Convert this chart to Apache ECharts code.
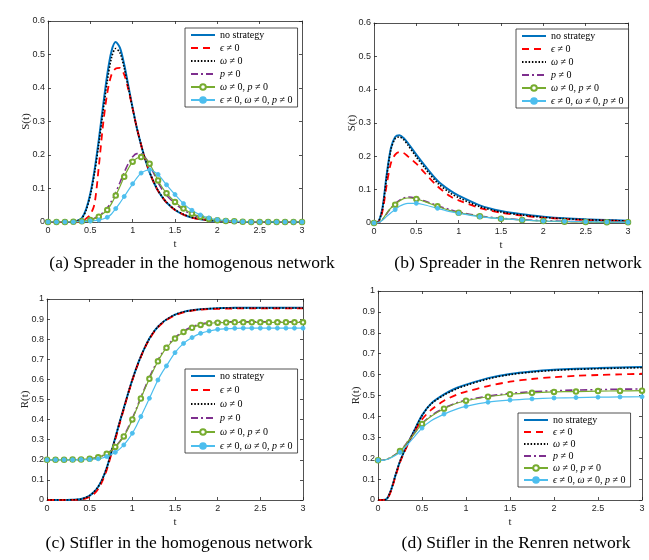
<!DOCTYPE html>
<html>
<head>
<meta charset="utf-8">
<script src="https://cdn.jsdelivr.net/npm/echarts@6.0.0/dist/echarts.min.js"></script>
<style>
html, body { margin: 0; padding: 0; background: #fff; }
#main { width: 649px; height: 560px; }
</style>
</head>
<body>
<div id="main"></div>
<script>
// legend names, same order in every panel
var names = ['no strategy', 'ϵ ≠ 0', 'ω ≠ 0', 'p ≠ 0', 'ω ≠ 0, p ≠ 0', 'ϵ ≠ 0, ω ≠ 0, p ≠ 0'];

var captions = ['(a) Spreader in the homogenous network', '(b) Spreader in the Renren network',
    '(c) Stifler in the homogenous network', '(d) Stifler in the Renren network'];
var yNames = ['S(t)', 'S(t)', 'R(t)', 'R(t)'];
var yMax = [0.6, 0.6, 1, 1];

// sample times (homogenous panels / Renren panels)
var tA = [0, 0.1, 0.2, 0.3, 0.35, 0.4, 0.45, 0.5, 0.55, 0.6, 0.65, 0.7, 0.75, 0.8, 0.85, 0.9, 0.95, 1, 1.05, 1.1,
    1.15, 1.2, 1.25, 1.3, 1.35, 1.4, 1.5, 1.6, 1.7, 1.8, 1.9, 2, 2.1, 2.2, 2.3, 2.4, 2.5, 2.6, 2.7, 2.8, 2.9, 3];
var tB = [0, 0.05, 0.1, 0.15, 0.2, 0.25, 0.3, 0.35, 0.4, 0.5, 0.6, 0.75, 0.9, 1, 1.25, 1.5, 1.75, 2, 2.25, 2.5, 2.75, 3];

// (a) S(t), homogenous network
var aNone = [0, 0, 0, 0.001, 0.004, 0.012, 0.038, 0.085, 0.155, 0.245, 0.345, 0.44, 0.51, 0.537, 0.52, 0.47, 0.405, 0.34, 0.28, 0.23,
    0.185, 0.148, 0.118, 0.093, 0.074, 0.058, 0.036, 0.022, 0.013, 0.008, 0.005, 0.003, 0.002, 0.001, 0, 0, 0, 0, 0, 0, 0, 0];
var aEps = [0, 0, 0, 0, 0.001, 0.003, 0.01, 0.022, 0.055, 0.165, 0.29, 0.385, 0.44, 0.458, 0.46, 0.44, 0.395, 0.338, 0.28, 0.23,
    0.185, 0.148, 0.118, 0.093, 0.074, 0.058, 0.036, 0.022, 0.013, 0.008, 0.005, 0.003, 0.002, 0.001, 0, 0, 0, 0, 0, 0, 0, 0];
var aOmega = [0, 0, 0, 0.001, 0.004, 0.011, 0.035, 0.08, 0.147, 0.233, 0.33, 0.42, 0.49, 0.518, 0.505, 0.46, 0.4, 0.338, 0.28, 0.23,
    0.186, 0.149, 0.119, 0.094, 0.075, 0.059, 0.037, 0.023, 0.014, 0.009, 0.005, 0.003, 0.002, 0.001, 0, 0, 0, 0, 0, 0, 0, 0];
var aP = [0, 0, 0, 0.001, 0.002, 0.003, 0.004, 0.006, 0.011, 0.018, 0.028, 0.042, 0.062, 0.088, 0.118, 0.148, 0.175, 0.195, 0.204, 0.203,
    0.192, 0.172, 0.145, 0.118, 0.096, 0.08, 0.055, 0.036, 0.022, 0.014, 0.008, 0.004, 0.002, 0.001, 0, 0, 0, 0, 0, 0, 0, 0];
var aWP = [0, 0, 0, 0.001, 0.001, 0.002, 0.004, 0.006, 0.01, 0.016, 0.025, 0.036, 0.055, 0.079, 0.106, 0.135, 0.16, 0.18, 0.19, 0.194,
    0.19, 0.174, 0.15, 0.124, 0.103, 0.086, 0.06, 0.04, 0.025, 0.016, 0.009, 0.005, 0.003, 0.002, 0.001, 0, 0, 0, 0, 0, 0, 0];
var aAll = [0, 0, 0, 0, 0.001, 0.001, 0.002, 0.003, 0.004, 0.006, 0.009, 0.014, 0.024, 0.04, 0.057, 0.076, 0.095, 0.114, 0.132, 0.146,
    0.153, 0.156, 0.151, 0.142, 0.127, 0.111, 0.082, 0.055, 0.035, 0.021, 0.012, 0.007, 0.004, 0.002, 0.001, 0, 0, 0, 0, 0, 0, 0];

// (b) S(t), Renren network
var bNone = [0, 0.003, 0.045, 0.145, 0.225, 0.258, 0.263, 0.255, 0.24, 0.205, 0.172, 0.127, 0.097, 0.082, 0.053, 0.036, 0.026, 0.019, 0.014, 0.011, 0.009, 0.007];
var bEps = [0, 0.002, 0.035, 0.115, 0.18, 0.205, 0.213, 0.21, 0.2, 0.178, 0.15, 0.11, 0.08, 0.068, 0.045, 0.031, 0.022, 0.016, 0.012, 0.009, 0.007, 0.006];
var bOmega = [0, 0.003, 0.043, 0.14, 0.22, 0.253, 0.258, 0.25, 0.234, 0.198, 0.165, 0.12, 0.09, 0.076, 0.049, 0.033, 0.024, 0.017, 0.013, 0.01, 0.008, 0.006];
var bP = [0, 0.001, 0.01, 0.028, 0.045, 0.058, 0.068, 0.075, 0.078, 0.074, 0.066, 0.052, 0.04, 0.033, 0.021, 0.014, 0.01, 0.007, 0.005, 0.004, 0.003, 0.003];
var bWP = [0, 0.001, 0.01, 0.03, 0.045, 0.055, 0.066, 0.073, 0.075, 0.072, 0.064, 0.05, 0.037, 0.031, 0.02, 0.013, 0.009, 0.006, 0.004, 0.003, 0.002, 0.002];
var bAll = [0, 0.001, 0.008, 0.02, 0.031, 0.04, 0.05, 0.056, 0.059, 0.059, 0.054, 0.044, 0.034, 0.029, 0.019, 0.013, 0.009, 0.006, 0.005, 0.004, 0.003, 0.002];

// (c) R(t), homogenous network
var cNone = [0, 0, 0, 0.001, 0.002, 0.005, 0.011, 0.022, 0.04, 0.066, 0.105, 0.16, 0.232, 0.31, 0.385, 0.457, 0.53, 0.598, 0.66, 0.714,
    0.762, 0.803, 0.836, 0.862, 0.882, 0.898, 0.922, 0.936, 0.944, 0.949, 0.952, 0.954, 0.955, 0.956, 0.956, 0.956, 0.956, 0.956, 0.956, 0.956, 0.956, 0.956];
var cEps = [0, 0, 0, 0.001, 0.001, 0.003, 0.007, 0.015, 0.03, 0.055, 0.095, 0.15, 0.222, 0.3, 0.378, 0.452, 0.527, 0.596, 0.658, 0.712,
    0.76, 0.8, 0.833, 0.859, 0.879, 0.895, 0.919, 0.933, 0.942, 0.947, 0.95, 0.951, 0.952, 0.953, 0.953, 0.953, 0.953, 0.953, 0.953, 0.953, 0.953, 0.953];
var cOmega = [0, 0, 0, 0.001, 0.002, 0.005, 0.011, 0.022, 0.04, 0.066, 0.105, 0.16, 0.232, 0.31, 0.385, 0.457, 0.53, 0.598, 0.66, 0.714,
    0.762, 0.803, 0.836, 0.862, 0.882, 0.898, 0.922, 0.936, 0.944, 0.949, 0.952, 0.954, 0.955, 0.955, 0.955, 0.955, 0.955, 0.955, 0.955, 0.955, 0.955, 0.955];
var cP = [0.2, 0.2, 0.2, 0.201, 0.201, 0.202, 0.203, 0.205, 0.208, 0.213, 0.22, 0.231, 0.246, 0.266, 0.29, 0.32, 0.359, 0.405, 0.457, 0.51,
    0.561, 0.61, 0.655, 0.696, 0.732, 0.762, 0.808, 0.84, 0.862, 0.875, 0.882, 0.885, 0.886, 0.887, 0.887, 0.887, 0.887, 0.887, 0.887, 0.887, 0.887, 0.887];
var cWP = [0.2, 0.2, 0.2, 0.201, 0.201, 0.202, 0.203, 0.205, 0.208, 0.213, 0.22, 0.23, 0.244, 0.264, 0.287, 0.316, 0.355, 0.401, 0.452, 0.505,
    0.556, 0.603, 0.648, 0.69, 0.727, 0.757, 0.803, 0.836, 0.857, 0.871, 0.879, 0.882, 0.883, 0.884, 0.884, 0.884, 0.884, 0.884, 0.884, 0.884, 0.884, 0.884];
var cAll = [0.2, 0.2, 0.2, 0.2, 0.2, 0.201, 0.201, 0.202, 0.203, 0.205, 0.209, 0.216, 0.225, 0.237, 0.253, 0.274, 0.3, 0.332, 0.371, 0.415,
    0.46, 0.506, 0.552, 0.597, 0.635, 0.667, 0.733, 0.779, 0.808, 0.829, 0.841, 0.849, 0.852, 0.854, 0.855, 0.855, 0.855, 0.855, 0.855, 0.855, 0.855, 0.855];

// (d) R(t), Renren network
var dNone = [0, 0, 0.005, 0.05, 0.12, 0.185, 0.235, 0.28, 0.322, 0.405, 0.46, 0.505, 0.537, 0.552, 0.583, 0.603, 0.615, 0.623, 0.628, 0.631, 0.634, 0.636];
var dEps = [0, 0, 0.004, 0.045, 0.115, 0.18, 0.23, 0.275, 0.315, 0.385, 0.43, 0.475, 0.505, 0.518, 0.545, 0.566, 0.579, 0.588, 0.594, 0.598, 0.601, 0.604];
var dOmega = [0, 0, 0.005, 0.05, 0.12, 0.185, 0.235, 0.28, 0.322, 0.403, 0.458, 0.502, 0.533, 0.548, 0.579, 0.6, 0.612, 0.62, 0.625, 0.628, 0.631, 0.633];
var dP = [0.19, 0.19, 0.195, 0.205, 0.218, 0.236, 0.258, 0.287, 0.313, 0.366, 0.402, 0.44, 0.466, 0.477, 0.497, 0.51, 0.518, 0.523, 0.526, 0.528, 0.53, 0.531];
var dWP = [0.19, 0.19, 0.195, 0.205, 0.218, 0.235, 0.257, 0.285, 0.31, 0.364, 0.4, 0.437, 0.464, 0.475, 0.494, 0.506, 0.513, 0.517, 0.519, 0.521, 0.522, 0.523];
var dAll = [0.19, 0.19, 0.194, 0.202, 0.214, 0.228, 0.248, 0.272, 0.296, 0.344, 0.378, 0.411, 0.436, 0.448, 0.468, 0.478, 0.484, 0.488, 0.49, 0.492, 0.493, 0.494];

var panels = [
    {t: tA, step: 0.1, ys: [aNone, aEps, aOmega, aP, aWP, aAll]},
    {t: tB, step: 0.25, ys: [bNone, bEps, bOmega, bP, bWP, bAll]},
    {t: tA, step: 0.1, ys: [cNone, cEps, cOmega, cP, cWP, cAll]},
    {t: tB, step: 0.25, ys: [dNone, dEps, dOmega, dP, dWP, dAll]}
];

// MATLAB-ish line styles
var styles = [
    {color: '#0072BD', width: 2, type: 'solid', symbol: 'none'},
    {color: '#FF0000', width: 1.8, type: [7, 5], symbol: 'none'},
    {color: '#000000', width: 1.6, type: [1.5, 1.8], symbol: 'none'},
    {color: '#7E2F8E', width: 1.6, type: [7, 3, 2, 3], symbol: 'none'},
    {color: '#77AC30', width: 1.2, type: 'solid', symbol: 'emptyCircle', size: 4.5},
    {color: '#4DBEEE', width: 1.2, type: 'solid', symbol: 'circle', size: 4}
];

var grids = [
    {left: 48, top: 21, width: 254, height: 201},
    {left: 374, top: 23, width: 254, height: 200},
    {left: 47, top: 299, width: 256, height: 201},
    {left: 378, top: 291, width: 264, height: 209}
];
var legendPos = [[185, 28, 3], [516, 29, 3], [185, 369, 4], [518, 413, 2]];
var captionPos = [[192, 263], [518, 263], [179, 543], [516, 543]];

var axisColor = '#262626';

function isMark(x, step) {
    var k = x / step;
    return Math.abs(k - Math.round(k)) < 1e-6;
}

function legendText(name) {
    if (name == 'no strategy') return name;
    return name.replace(/([ϵωp])/g, '{i|$1}');
}

// line-only entries get an invisible legend symbol
var legendData = names.map(function(n, k) {
    if (styles[k].symbol != 'none') return n;
    return {name: n, itemStyle: {color: 'rgba(0,0,0,0)', borderColor: 'rgba(0,0,0,0)', borderWidth: 0}};
});

var xAxes = [], yAxes = [], series = [], legends = [], graphics = [];

grids.forEach(function(g, i) {
    var tick = {inside: true, length: 3, lineStyle: {color: axisColor, width: 0.8}};
    var line = {onZero: false, lineStyle: {color: axisColor, width: 0.8}};
    xAxes.push({
        gridIndex: i, type: 'value', min: 0, max: 3, interval: 0.5,
        axisLine: line, axisTick: tick, splitLine: {show: false},
        axisLabel: {fontFamily: 'Liberation Sans', fontSize: 9, color: axisColor, margin: 4},
        name: 't', nameLocation: 'middle', nameGap: 17, nameMoveOverlap: false,
        nameTextStyle: {fontFamily: 'Liberation Serif', fontSize: 11, color: axisColor}
    });
    yAxes.push({
        gridIndex: i, type: 'value', min: 0, max: yMax[i], interval: 0.1,
        axisLine: line, axisTick: tick, splitLine: {show: false},
        axisLabel: {fontFamily: 'Liberation Sans', fontSize: 9, color: axisColor, margin: 3},
        name: yNames[i], nameLocation: 'middle', nameGap: 16, nameMoveOverlap: false,
        nameTextStyle: {fontFamily: 'Liberation Serif', fontSize: 11, color: axisColor}
    });
    legends.push({
        left: legendPos[i][0], top: legendPos[i][1], orient: 'vertical',
        itemWidth: 24, itemHeight: 7, itemGap: legendPos[i][2],
        padding: [2, 5, 2, 5], borderColor: axisColor, borderWidth: 0.8, backgroundColor: '#fff',
        selectedMode: false, data: legendData, formatter: legendText,
        textStyle: {
            fontFamily: 'Liberation Serif', fontSize: 10, lineHeight: 10, color: '#000',
            rich: {i: {fontFamily: 'Liberation Serif', fontStyle: 'italic', fontSize: 10, lineHeight: 10, color: '#000'}}
        }
    });
    graphics.push({
        type: 'text', x: captionPos[i][0], y: captionPos[i][1], silent: true,
        style: {text: captions[i], fill: '#000', font: '17.5px "Liberation Serif"', align: 'center', verticalAlign: 'middle'}
    });
});

// opposite-side axes: box frame with inward ticks
grids.forEach(function(g, i) {
    var tick = {inside: true, length: 3, lineStyle: {color: axisColor, width: 0.8}};
    var line = {onZero: false, lineStyle: {color: axisColor, width: 0.8}};
    xAxes.push({gridIndex: i, type: 'value', position: 'top', min: 0, max: 3, interval: 0.5,
        axisLine: line, axisTick: tick, axisLabel: {show: false}, splitLine: {show: false}});
    yAxes.push({gridIndex: i, type: 'value', position: 'right', min: 0, max: yMax[i], interval: 0.1,
        axisLine: line, axisTick: tick, axisLabel: {show: false}, splitLine: {show: false}});
});

panels.forEach(function(p, i) {
    p.ys.forEach(function(ys, k) {
        var st = styles[k];
        var data = p.t.map(function(x, j) {
            if (st.symbol != 'none' && isMark(x, p.step)) return [x, ys[j]];
            return {value: [x, ys[j]], symbol: 'none'};
        });
        series.push({
            name: names[k], type: 'line', xAxisIndex: i, yAxisIndex: i,
            data: data, smooth: 0.3, showAllSymbol: true,
            symbol: st.symbol, symbolSize: st.size || 0,
            lineStyle: {color: st.color, width: st.width, type: st.type},
            itemStyle: {color: st.color, borderColor: st.color, borderWidth: 0.9},
            emphasis: {disabled: true}
        });
    });
});

var chart = echarts.init(document.getElementById('main'));
chart.setOption({
    animation: false,
    backgroundColor: '#fff',
    grid: grids,
    xAxis: xAxes,
    yAxis: yAxes,
    legend: legends,
    series: series,
    graphic: graphics
});
</script>
</body>
</html>
